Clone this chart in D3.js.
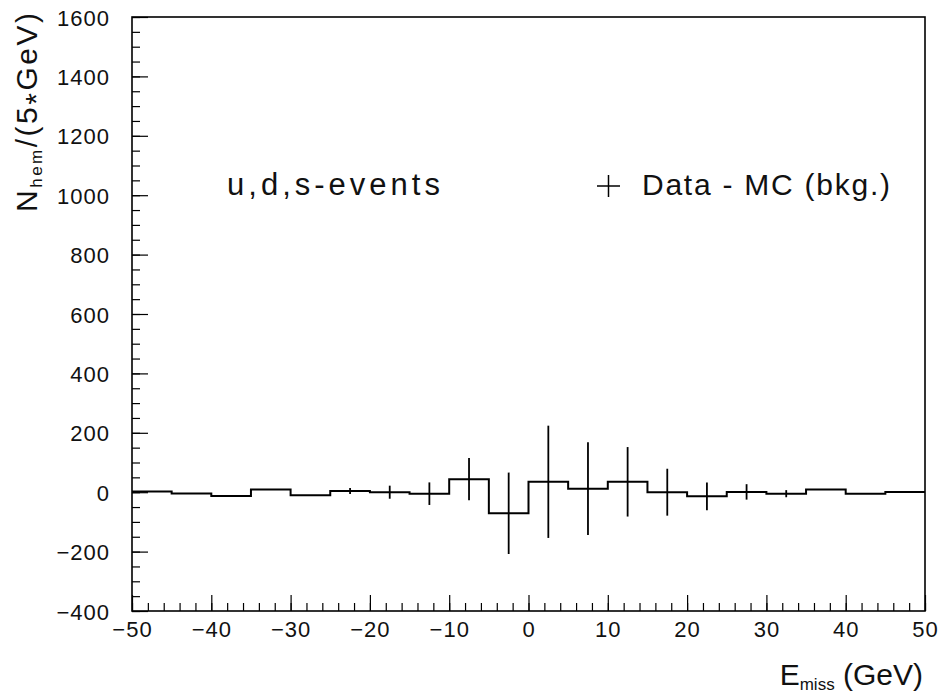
<!DOCTYPE html>
<html lang="en">
<head>
    <meta charset="UTF-8">
    <title>Emiss Data - MC</title>
    <script src="https://d3js.org/d3.v7.min.js"></script>
    <style>
        body { margin: 0; background: #fff; }
        text { font-family: "Liberation Sans", Arial, sans-serif; fill: #111; }
    </style>
</head>
<body>
<script>
    const width  = 942;
    const height = 697;
    const frame  = {left: 132, right: 925, top: 17, bottom: 611};

    // bin low edges (GeV), 5 GeV wide
    const binLow = [-50, -45, -40, -35, -30, -25, -20, -15, -10, -5,
                      0,   5,  10,  15,  20,  25,  30,  35,  40, 45];
    // Data - MC (bkg.) per bin
    const values = [2, -4, -13, 9, -10, 4, 0, -5, 44, -71,
                    35, 12, 35, 0, -14, 1, -5, 9, -5, 1];
    // statistical errors
    const errors = [0, 0, 0, 0, 0, 10, 22, 38, 71, 137,
                    189, 156, 117, 79, 47, 26, 12, 0, 0, 0];

    const xTicks = [-50, -40, -30, -20, -10, 0, 10, 20, 30, 40, 50];
    const yTicks = [-400, -200, 0, 200, 400, 600, 800, 1000, 1200, 1400, 1600];

    const binWidth = 5;

    const x = d3.scaleLinear()
            .domain([-50, 50])
            .range([frame.left, frame.right]);

    const y = d3.scaleLinear()
            .domain([-400, 1600])
            .range([frame.bottom, frame.top]);

    const svg = d3.select("body")
            .append("svg")
            .attr("width", width)
            .attr("height", height);

    const fmt = d => (d < 0 ? "\u2212" + Math.abs(d) : "" + d);

    // minor ticks first (no labels)
    svg.append("g")
        .attr("transform", "translate(0," + frame.bottom + ")")
        .call(d3.axisBottom(x).tickValues(d3.range(-50, 51, 2)).tickSize(-8).tickFormat(""))
        .call(g => g.select(".domain").remove());

    svg.append("g")
        .attr("transform", "translate(" + frame.left + ",0)")
        .call(d3.axisLeft(y).tickValues(d3.range(-400, 1601, 50)).tickSize(-8).tickFormat(""))
        .call(g => g.select(".domain").remove());

    // major ticks with labels
    const xAxis = svg.append("g")
        .attr("transform", "translate(0," + frame.bottom + ")")
        .call(d3.axisBottom(x).tickValues(xTicks).tickSize(-16).tickPadding(0).tickFormat(fmt))
        .call(g => g.select(".domain").remove());
    xAxis.selectAll("text")
        .attr("y", 26)
        .attr("dy", null)
        .style("font-size", "22px")
        .style("letter-spacing", "1px");

    const yAxis = svg.append("g")
        .attr("transform", "translate(" + frame.left + ",0)")
        .call(d3.axisLeft(y).tickValues(yTicks).tickSize(-16).tickFormat(fmt))
        .call(g => g.select(".domain").remove());
    yAxis.selectAll("text")
        .attr("x", -22)
        .attr("dy", "8px")
        .style("font-size", "22px")
        .style("letter-spacing", "1px");

    svg.selectAll(".tick line")
        .attr("stroke", "#000")
        .attr("stroke-width", 1.2);

    // frame
    svg.append("rect")
        .attr("x", frame.left)
        .attr("y", frame.top)
        .attr("width", frame.right - frame.left)
        .attr("height", frame.bottom - frame.top)
        .attr("fill", "none")
        .attr("stroke", "#000")
        .attr("stroke-width", 1.6);

    // histogram steps
    const steps = binLow.map((b, i) => [b, values[i]]);
    steps.push([50, values[values.length - 1]]);

    const stepLine = d3.line()
            .x(d => x(d[0]))
            .y(d => y(d[1]))
            .curve(d3.curveStepAfter);

    svg.append("path")
        .attr("d", stepLine(steps))
        .attr("fill", "none")
        .attr("stroke", "#000")
        .attr("stroke-width", 2);

    // error bars
    svg.selectAll("line.err")
        .data(binLow.map((b, i) => ({c: b + binWidth / 2, v: values[i], e: errors[i]})).filter(d => d.e > 0))
        .enter()
        .append("line")
        .attr("class", "err")
        .attr("x1", d => x(d.c))
        .attr("x2", d => x(d.c))
        .attr("y1", d => y(d.v + d.e))
        .attr("y2", d => y(d.v - d.e))
        .attr("stroke", "#000")
        .attr("stroke-width", 1.8);

    // labels
    svg.append("text")
        .attr("x", 227)
        .attr("y", 195)
        .attr("textLength", 213)
        .attr("lengthAdjust", "spacing")
        .style("font-size", "31px")
        .text("u,d,s-events");

    svg.append("line")
        .attr("x1", 597).attr("x2", 620)
        .attr("y1", 186).attr("y2", 186)
        .attr("stroke", "#000").attr("stroke-width", 1.5);
    svg.append("line")
        .attr("x1", 608.5).attr("x2", 608.5)
        .attr("y1", 175).attr("y2", 197)
        .attr("stroke", "#000").attr("stroke-width", 1.5);

    svg.append("text")
        .attr("x", 642)
        .attr("y", 195)
        .attr("textLength", 248)
        .attr("lengthAdjust", "spacing")
        .style("font-size", "30px")
        .text("Data - MC (bkg.)");

    const xLabel = svg.append("text")
        .attr("x", 923)
        .attr("y", 685)
        .attr("text-anchor", "end")
        .style("font-size", "30px");
    xLabel.append("tspan").text("E");
    xLabel.append("tspan").attr("dy", 5).style("font-size", "17px").text("miss");
    xLabel.append("tspan").attr("dy", -5).text(" (GeV)");

    const yLabel = svg.append("text")
        .attr("transform", "translate(37,212) rotate(-90)")
        .style("font-size", "30px")
        .style("letter-spacing", "2.5px");
    yLabel.append("tspan").text("N");
    yLabel.append("tspan").attr("dy", 5).style("font-size", "17px").text("hem");
    yLabel.append("tspan").attr("dy", -5).text("/(5");
    yLabel.append("tspan").attr("dy", 9).text("*");
    yLabel.append("tspan").attr("dy", -9).text("GeV)");
</script>
</body>
</html>
